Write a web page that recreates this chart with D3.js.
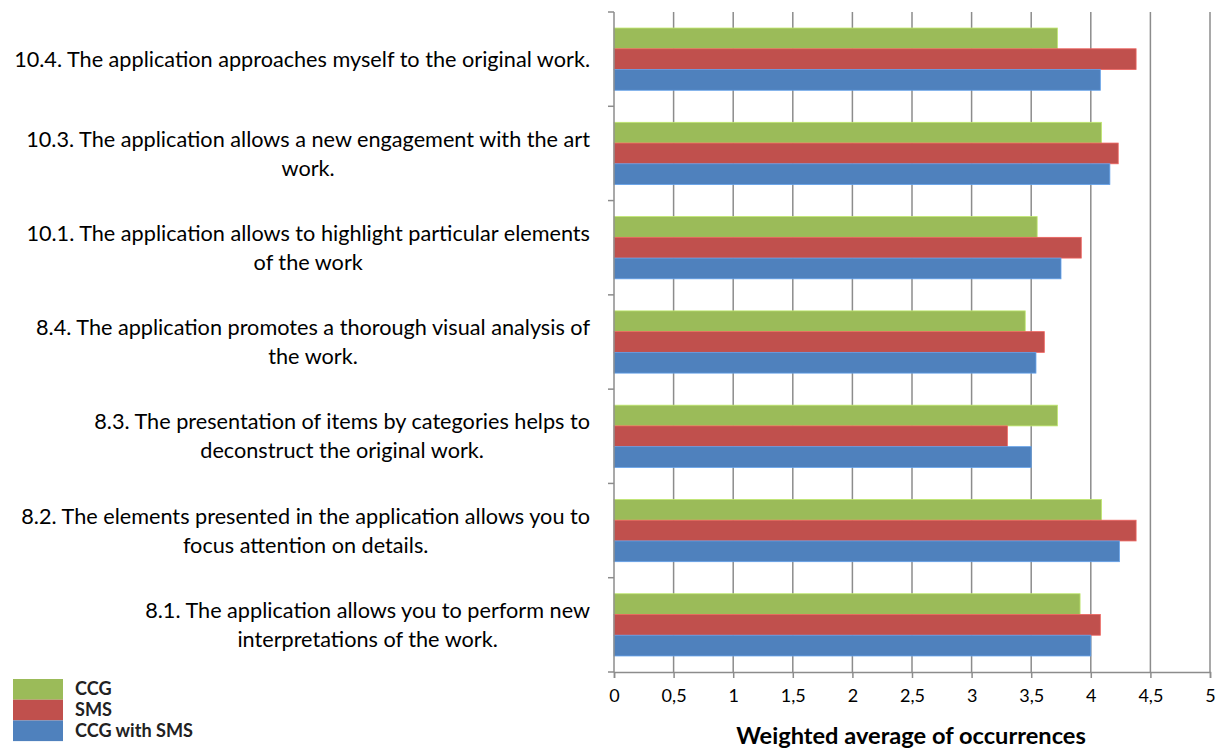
<!DOCTYPE html>
<html><head><meta charset="utf-8">
<script src="https://cdn.jsdelivr.net/npm/d3@7"></script>
<style>body{margin:0;background:#fff}svg{display:block}</style>
</head><body>
<script>
const categories = [
  ["10.4. The application approaches myself to the original work."],
  ["10.3. The application allows a new engagement with the art", "work."],
  ["10.1. The application allows to highlight particular elements", "of the work"],
  ["8.4. The application promotes a thorough visual analysis of", "the work."],
  ["8.3. The presentation of items by categories helps to", "deconstruct the original work."],
  ["8.2. The elements presented in the application allows you to", "focus attention on details."],
  ["8.1. The application allows you to perform new", "interpretations of the work."]
];
const seriesNames = ["CCG", "SMS", "CCG with SMS"];
const seriesColors = ["#9BBB59", "#C0504D", "#4F81BD"];
const ccg = [3.72, 4.09, 3.55, 3.45, 3.72, 4.09, 3.91];
const sms = [4.38, 4.23, 3.92, 3.61, 3.30, 4.38, 4.08];
const ccgSms = [4.08, 4.16, 3.75, 3.54, 3.50, 4.24, 4.00];
const xTicks = [0, 0.5, 1, 1.5, 2, 2.5, 3, 3.5, 4, 4.5, 5];
const xTickLabels = ["0", "0,5", "1", "1,5", "2", "2,5", "3", "3,5", "4", "4,5", "5"];
const xTitle = "Weighted average of occurrences";

const W = 1223, H = 751;
const font = "Lato, 'Open Sans', sans-serif";
const svg = d3.select("body").append("svg").attr("width", W).attr("height", H);

function fitSize(text, weight, targetW) {
  const t = svg.append("text").text(text).attr("font-family", font).attr("font-size", 20).attr("font-weight", weight);
  const w = t.node().getComputedTextLength();
  t.remove();
  return 20 * targetW / w;
}

const x = d3.scaleLinear().domain([0, 5]).range([614, 1210]);
const ids = categories.map((c, i) => i);
const y = d3.scaleBand().domain(ids).range([12, 672]).paddingInner(0.34).paddingOuter(0.17);
const ySub = d3.scaleBand().domain([0, 1, 2]).range([0, y.bandwidth()]);
const series = [ccg, sms, ccgSms];

// gridlines
svg.append("g").selectAll("line").data(xTicks.slice(1)).join("line")
  .attr("x1", d => x(d)).attr("x2", d => x(d)).attr("y1", 12).attr("y2", 672)
  .attr("stroke", "#8c8c8c").attr("stroke-width", 1.5);

// bars
series.forEach((vals, s) => {
  svg.append("g").selectAll("rect").data(vals).join("rect")
    .attr("x", x(0))
    .attr("y", (d, i) => y(i) + ySub(s))
    .attr("width", d => x(d) - x(0))
    .attr("height", ySub.bandwidth())
    .attr("fill", seriesColors[s])
    .attr("stroke", d3.color(seriesColors[s]).brighter(0.6))
    .attr("stroke-width", 0.8);
});

// left axis
const step = y.step();
const bounds = d3.range(8).map(i => 12 + i * step);
svg.append("line").attr("x1", x(0)).attr("x2", x(0)).attr("y1", 12).attr("y2", 672)
  .attr("stroke", "#8c8c8c").attr("stroke-width", 1.5);
svg.append("g").selectAll("line").data(bounds).join("line")
  .attr("x1", x(0) - 6).attr("x2", x(0)).attr("y1", d => d).attr("y2", d => d)
  .attr("stroke", "#8c8c8c").attr("stroke-width", 1.5);

// bottom axis
const xAxis = d3.axisBottom(x).tickValues(xTicks).tickFormat((d, i) => xTickLabels[i]).tickSize(6).tickPadding(11);
const gx = svg.append("g").attr("transform", "translate(0,672)").call(xAxis);
gx.select(".domain").attr("stroke", "#8c8c8c").attr("stroke-width", 1.5);
gx.selectAll(".tick text").attr("font-family", font).attr("font-size", 18).attr("fill", "#000");
gx.selectAll(".tick line").attr("stroke", "#8c8c8c").attr("stroke-width", 1.5);

// category labels
const labelSize = fitSize(categories[0][0], "normal", 576);
categories.forEach((lines, i) => {
  const cy = y(i) + y.bandwidth() / 2;
  const lh = 29;
  const g = svg.append("g");
  const texts = lines.map((t, k) => g.append("text").text(t)
    .attr("font-family", font).attr("font-size", labelSize).attr("fill", "#000")
    .attr("text-anchor", "middle")
    .attr("dy", "0.35em")
    .attr("y", cy + (k - (lines.length - 1) / 2) * lh));
  const maxW = d3.max(texts, t => t.node().getComputedTextLength());
  texts.forEach(t => t.attr("x", 590 - maxW / 2));
});

// x title
svg.append("text").text(xTitle).attr("x", 911).attr("y", 744)
  .attr("text-anchor", "middle").attr("font-family", font).attr("font-size", fitSize(xTitle, "bold", 350))
  .attr("font-weight", "bold").attr("fill", "#000");

// legend
const legSize = fitSize("CCG with SMS", "bold", 118);
seriesNames.forEach((n, s) => {
  svg.append("rect").attr("x", 13).attr("y", 679 + s * 20.7).attr("width", 50).attr("height", 20.7)
    .attr("fill", seriesColors[s]);
  svg.append("text").text(n).attr("x", 75).attr("y", 689 + s * 20.7).attr("dy", "0.35em")
    .attr("font-family", font).attr("font-size", legSize).attr("font-weight", "bold").attr("fill", "#222");
});
</script>
</body></html>
